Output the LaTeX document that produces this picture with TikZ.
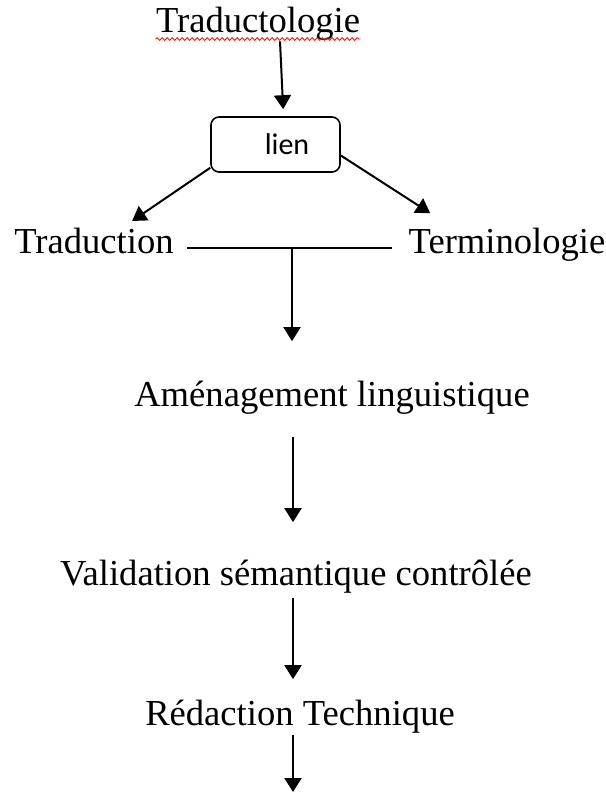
\documentclass[tikz,border=0pt]{standalone}
\usepackage{fontspec}
\setmainfont{Liberation Serif}
\newfontfamily\lienfont{Carlito}
\usetikzlibrary{arrows.meta,decorations.pathmorphing}
\begin{document}
\begin{tikzpicture}[x=0.5pt,y=-0.5pt, line join=round,
		font=\fontsize{18.3}{22}\selectfont,
		txt/.style={inner sep=0pt, anchor=base},
		fleche/.style={line width=1pt, -{Triangle[width=8.5pt,length=7pt]}},
		boite/.style={draw, line width=0.8pt, rounded corners=4pt, minimum width=64.5pt, minimum height=27.5pt, inner sep=0pt, font=\lienfont\fontsize{15}{18}\selectfont}]
	\def\xmax{605} \def\ymax{792}
	\useasboundingbox (0,0) rectangle (\xmax,\ymax);
	% les textes
	\node[txt] (tradlogie) at (258,33) {Traductologie};
	\node[boite] (lien) at (275.5,144.5) {\hspace*{11.5pt}lien};
	\node[txt] (traduction) at (94,253) {Traduction};
	\node[txt] (terminologie) at (507,253) {Terminologie};
	\node[txt] (amenag) at (332,406) {Aménagement linguistique};
	\node[txt] (validation) at (296,585) {Validation sémantique contrôlée};
	\node[txt] (redaction) at (300,725) {Rédaction Technique};
	\coordinate (jonction) at (292,248);
	\coordinate (col) at (293,0);
	\coordinate (fin) at (293,\ymax);
	% soulignement
	\draw[red, line width=0.4pt, decorate, decoration={snake, amplitude=0.7pt, segment length=2.5pt}]
		([yshift=-3pt]tradlogie.base west) -- ([yshift=-3pt]tradlogie.base east);
	% fleches
	\draw[fleche, shorten >=3.5pt] ([xshift=11pt]tradlogie.south) -- ([xshift=4pt]lien.north);
	\draw[fleche, shorten >=5.5pt] ([yshift=2.5pt]lien.south west) -- ([xshift=14.5pt]traduction.north);
	\draw[fleche, shorten >=13pt] ([yshift=-5.5pt]lien.east) -- ([xshift=-27.5pt]terminologie.north);
	\draw[line width=0.8pt, shorten <=6.5pt, shorten >=8pt] (traduction.east |- jonction) -- (terminologie.west |- jonction);
	\draw[fleche, shorten >=19.5pt] (jonction) -- (jonction |- amenag.north);
	\draw[fleche, shorten <=11.5pt, shorten >=18.5pt] (amenag.south -| col) -- (validation.north -| col);
	\draw[fleche, shorten <=2.5pt, shorten >=10pt] (validation.south -| col) -- (redaction.north -| col);
	\draw[fleche, shorten <=1pt] (redaction.south -| col) -- (fin);
\end{tikzpicture}
\end{document}
